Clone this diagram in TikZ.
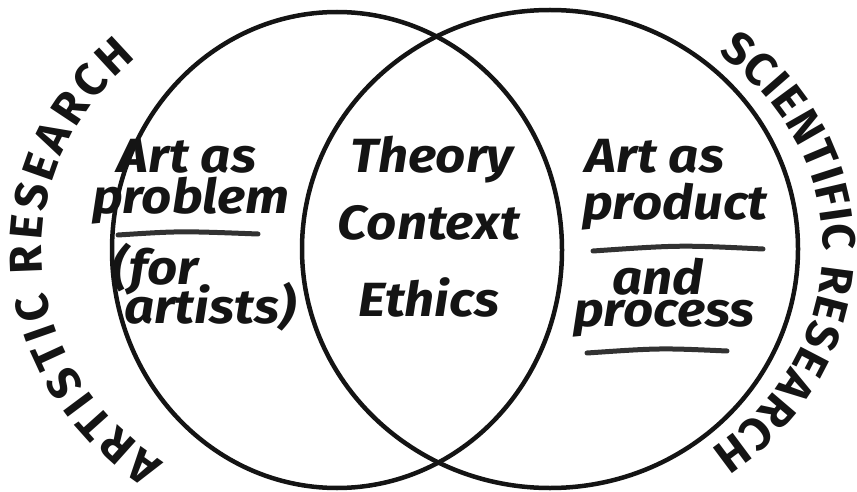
\documentclass[tikz,border=0pt]{standalone}
\usepackage{fontspec}
\setmainfont{Fira Sans}
\newfontfamily\handfont{Fira Sans}[FakeStretch=1.1]
\usetikzlibrary{decorations.text}
\definecolor{inkblack}{RGB}{20,20,20}
\definecolor{inkgray}{RGB}{50,50,50}
\newcommand{\labelfont}{\fontsize{46}{46}\selectfont\bfseries}
\tikzset{
  venn/.style={draw=inkblack, line width=4.5pt},
  hand/.style={font=\handfont\fontsize{48}{48}\selectfont\bfseries\itshape,
    text=inkblack, inner sep=0pt},
  penline/.style={draw=inkgray, line width=5pt, line cap=round},
  curvelabel/.style={decorate, decoration={text along path,
    text color=inkblack, text align=fit to path}},
}

\begin{document}
\begin{tikzpicture}[x=1pt, y=1pt]
  \useasboundingbox (0,0) rectangle (857,491);

  % the two circles
  \coordinate (artc) at (337,241);
  \coordinate (scic) at (550,242);
  \draw[venn] (artc) ellipse [x radius=225, y radius=238];
  \draw[venn] (scic) ellipse [x radius=248, y radius=239];

  % left part
  \node[hand] (artas)   at (187,335) {Art as};
  \node[hand] (problem) at (191,290) {problem};
  \draw[penline] (118,256) .. controls (180,260) .. (258,257);
  \node[hand] (for)     at (155,222) {(for};
  \node[hand] (artists) at (210,184) {artists)};

  % middle part
  \node[hand] (theory)  at (432,331) {Theory};
  \node[hand] (context) at (429,268) {Context};
  \node[hand] (ethics)  at (429,194) {Ethics};

  % right part
  \node[hand] (artas2)  at (655,335) {Art as};
  \node[hand] (product) at (675,284) {product};
  \draw[penline] (593,240) .. controls (680,246) .. (763,242);
  \node[hand] (and)     at (658,214) {and};
  \node[hand] (process) at (664,172) {process};
  \draw[penline] (587,138) .. controls (660,143) .. (727,140);

  % labels round the circles
  \path[curvelabel, decoration={text={|\labelfont|ARTISTIC RESEARCH}}]
    (artc) ++(234:295 and 262)
    arc [start angle=234, end angle=133, x radius=295, y radius=262];
  \path[curvelabel, decoration={text={|\labelfont|SCIENTIFIC RESEARCH}}]
    (scic) ++(52:273 and 248)
    arc [start angle=52, end angle=-54, x radius=273, y radius=248];
\end{tikzpicture}
\end{document}
